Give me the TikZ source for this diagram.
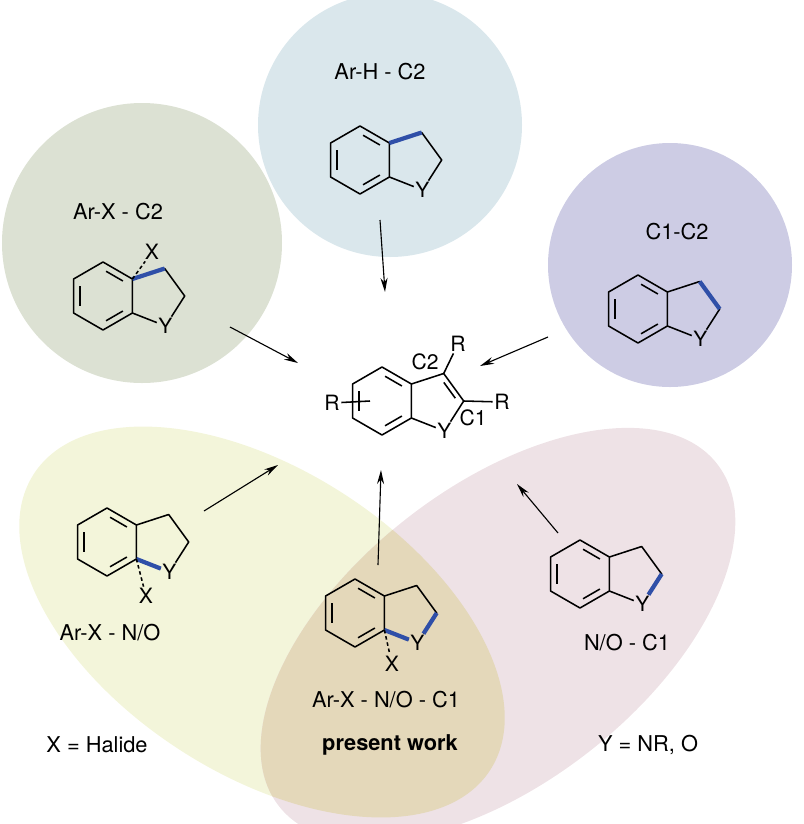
\documentclass[tikz,border=0pt]{standalone}
\usepackage{fontspec}
\setmainfont{TeX Gyre Heros}
\usetikzlibrary{arrows.meta,calc}

\definecolor{topblue}{HTML}{DAE7EC}
\definecolor{leftgreen}{HTML}{DCE1D3}
\definecolor{rightlav}{HTML}{CDCCE4}
\definecolor{yellowbg}{HTML}{F3F5DA}
\definecolor{pinkbg}{HTML}{EEE2E6}
\definecolor{overlap}{HTML}{E4D8BA}
\definecolor{bondblue}{HTML}{2F4FA8}

\tikzset{
  bond/.style={line width=1.1pt},
  newbond/.style={line width=3pt,bondblue},
  inner/.style={line width=1.1pt,shorten <=2.5pt,shorten >=2.5pt},
  atom/.style={inner sep=1pt,font=\fontsize{15}{16}\selectfont},
  label/.style={font=\fontsize{15.5}{17}\selectfont},
  react/.style={line width=0.8pt,-{Stealth[length=10pt,width=5pt]}},
  yellowsh/.style={shift={(262,622)},rotate=-33},
  pinksh/.style={shift={(498,635)},rotate=38}
}

% fused 6/5 ring skeleton, prefix #1, hexagon centre #2
\newcommand{\skeleton}[2]{
  \coordinate (#1a1) at ($#2+(0,-34)$);
  \coordinate (#1a2) at ($#2+(29.4,-17)$);
  \coordinate (#1a3) at ($#2+(29.4,17)$);
  \coordinate (#1a4) at ($#2+(0,34)$);
  \coordinate (#1a5) at ($#2+(-29.4,17)$);
  \coordinate (#1a6) at ($#2+(-29.4,-17)$);
  \coordinate (#1c3) at ($#2+(61.7,-27.5)$);
  \coordinate (#1c2) at ($#2+(81.7,0)$);
  \coordinate (#1pc) at ($#2+(52.8,0)$);
  \node[atom] (#1Y) at ($#2+(62.5,30)$) {Y};
  \draw[bond,line join=round] (#1a2) -- (#1a1) -- (#1a6) -- (#1a5) -- (#1a4) -- (#1a3) -- (#1a2)
    -- (#1c3) -- (#1c2) -- (#1Y) -- (#1a3);
  \draw[inner] ($#2!0.78!(#1a1)$) -- ($#2!0.78!(#1a2)$);
  \draw[inner] ($#2!0.78!(#1a3)$) -- ($#2!0.78!(#1a4)$);
  \draw[inner] ($#2!0.78!(#1a5)$) -- ($#2!0.78!(#1a6)$);
}

\begin{document}
\begin{tikzpicture}[x=0.025cm,y=-0.025cm]
  \useasboundingbox (0,0) rectangle (804,824);

  % backgrounds
  \fill[topblue] (390,125) circle (132);
  \fill[leftgreen] (142,243) circle (140);
  \fill[rightlav] (670,265) circle (122);
  \fill[yellowbg,yellowsh] (0,0) ellipse (272 and 152);
  \fill[pinkbg,pinksh] (0,0) ellipse (278 and 148);
  \begin{scope}
    \clip[yellowsh] (0,0) ellipse (272 and 152);
    \fill[overlap,pinksh] (0,0) ellipse (278 and 148);
  \end{scope}

  % titles
  \node[label] (tArH) at (380,72) {Ar-H - C2};
  \node[label] (tArX) at (118,212) {Ar-X - C2};
  \node[label] (tCC) at (677,232) {C1-C2};
  \node[label] (tArN) at (110,633) {Ar-X - N/O};
  \node[label] (tAll) at (386,700) {Ar-X - N/O - C1};
  \node[label] (tNC) at (627,643) {N/O - C1};
  \node[label] (halide) at (97,745) {X = Halide};
  \node[label,font=\fontsize{15.5}{17}\selectfont\bfseries] (work) at (390,745) {present work};
  \node[label] (ydef) at (648,745) {Y = NR, O};

  % top: Ar-H - C2
  \skeleton{t}{(360,160)}
  \draw[newbond] (ta2) -- (tc3);

  % left circle: Ar-X - C2
  \skeleton{l}{(103,296)}
  \draw[newbond] (la2) -- (lc3);
  \node[atom] (lX) at (152,252) {X};
  \draw[bond,dash pattern=on 2.5pt off 2pt] (la2) -- (lX);

  % right circle: C1-C2
  \skeleton{r}{(638,309)}
  \draw[newbond] (rc3) -- (rc2);

  % yellow: Ar-X - N/O
  \skeleton{y}{(107,542)}
  \draw[newbond] (ya3) -- (yY);
  \node[atom] (yX) at (146,596) {X};
  \draw[bond,dash pattern=on 2.5pt off 2pt] (ya3) -- (yX);

  % overlap: Ar-X - N/O - C1
  \skeleton{o}{(355,613)}
  \draw[newbond] (oa3) -- (oY);
  \draw[newbond] (oc2) -- (oY);
  \node[atom] (oX) at (392,664) {X};
  \draw[bond,dash pattern=on 2.5pt off 2pt] (oa3) -- (oX);

  % pink: N/O - C1
  \skeleton{p}{(580,574)}
  \draw[newbond] (pc2) -- (pY);

  % product
  \skeleton{m}{(382,401)}
  \draw[inner] ($(mc3)!0.22!(mpc)$) -- ($(mc2)!0.22!(mpc)$);
  \node[atom] (mR1) at (458,344) {R};
  \node[atom] (mR2) at (502,402) {R};
  \node[atom] (mR3) at (332,403) {R};
  \node[atom] (mC2) at (425,362) {C2};
  \node[atom] (mC1) at (473,418) {C1};
  \draw[bond] (mc3) -- (mR1);
  \draw[bond] (mc2) -- (mR2);
  \draw[bond] (mR3) -- (370,401);

  % arrows
  \coordinate (s1) at (380,220);  \coordinate (e1) at (385,292);
  \coordinate (s2) at (230,327);  \coordinate (e2) at (298,363);
  \coordinate (s3) at (548,337);  \coordinate (e3) at (480,366);
  \coordinate (s4) at (204,511);  \coordinate (e4) at (278,465);
  \coordinate (s5) at (378,565);  \coordinate (e5) at (381,470);
  \coordinate (s6) at (558,533);  \coordinate (e6) at (517,484);
  \foreach \i in {1,...,6}
    \draw[react] (s\i) -- (e\i);
\end{tikzpicture}
\end{document}
